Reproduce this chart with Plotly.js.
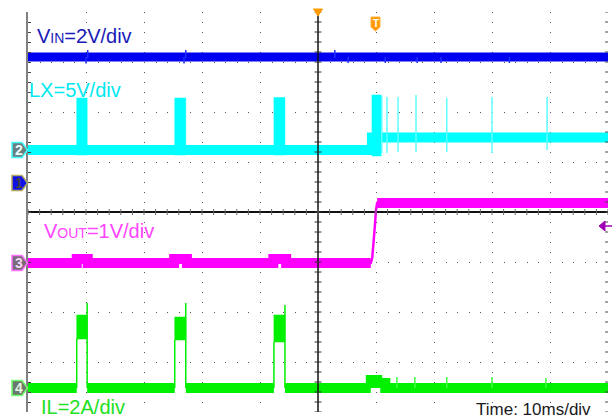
<!DOCTYPE html>
<html><head><meta charset="utf-8">
<script src="https://cdn.plot.ly/plotly-3.0.1.min.js"></script>
<style>html,body{margin:0;padding:0;background:#fff}#chart{width:612px;height:418px}</style>
</head><body><div id="chart"></div>
<script>
// ---------------- DATA (time in ms, 10 ms/div) ----------------
const burstStart = [8.4, 25.3, 42.4];
const burstEnd   = [10.2, 27.2, 44.3];

// CH1 VIN (V)
const vinT = [0, 100];
const vinV = [5.04, 5.04];
const vinSpikeT  = [10.3, 27.2, 52.9, 10.0, 26.9, 55.2, 61.6, 67.1, 71.2, 83.0];
const vinSpikeLo = [5.0, 5.0, 5.0, 4.78, 4.78, 4.8, 4.8, 4.8, 4.8, 4.8];
const vinSpikeHi = [5.32, 5.32, 5.32, 5.04, 5.04, 5.04, 5.04, 5.04, 5.04, 5.04];

// CH2 LX (V)
const lxT = [0, 59.3, 59.3, 100];
const lxV = [0, 0, 1.25, 1.25];
const lxBurstStart = [8.4, 25.3, 42.4, 59.3];
const lxBurstEnd   = [10.2, 27.2, 44.3, 60.9];
const lxBurstLo    = [-0.5, -0.5, -0.5, -0.6];
const lxBurstHi    = [5.2, 5.2, 5.25, 5.5];
const lxSpikeT  = [61.0, 61.9, 63.8, 66.9, 72.2, 80.0, 89.5];
const lxSpikeLo = [-0.3, -0.3, -0.2, -0.2, -0.2, -0.3, 0.0];
const lxSpikeHi = [5.4, 5.3, 5.3, 5.5, 5.2, 5.3, 5.3];

// CH3 VOUT (V)
const voutT = [0, 8.4, 8.4, 10.3, 10.3, 25.2, 25.2, 27.4, 27.4, 42.3, 42.3, 44.5, 44.5, 59.1, 59.35, 59.5, 59.75, 60.0, 60.2, 100];
const voutV = [0, 0, 0.08, 0.08, 0, 0, 0.08, 0.08, 0, 0, 0.08, 0.08, 0, 0, 0.1, 0.26, 0.66, 1.06, 1.2, 1.2];

// CH4 IL (A)
const ilBurstLo   = [1.96, 1.92, 1.84];
const ilBurstHi   = [2.92, 2.84, 2.92];
const ilBurstPeak = [3.4, 3.4, 3.32];
const ilPostT = [59.1, 59.1, 60.2, 60.2, 61.6, 61.6, 100];
const ilPostV = [0, 0.32, 0.32, 0.2, 0.2, 0, 0];
const ilSpikeT  = [63.6, 66.7, 72.2, 80.0, 89.3];
const ilSpikeHi = [0.44, 0.44, 0.44, 0.44, 0.4];

// ---------------- SCOPE SETTINGS ----------------
const CH = {
  vin:  {off: 0.58,  scale: 2, color: '#0000f0'},
  lx:   {off: 1.24,  scale: 5, color: '#00ffff'},
  vout: {off: -1.02, scale: 1, color: '#ff00ff'},
  il:   {off: -3.52, scale: 2, color: '#00f000'}
};
const riseWindow = [59.1, 60.2];
const Y = (c, arr) => arr.map(v => v == null ? null : c.off + v / c.scale);

function spikes(c, t, lo, hi) {
  const x = [], y = [];
  t.forEach((tt, i) => { x.push(tt, tt, null); y.push(c.off + lo[i]/c.scale, c.off + hi[i]/c.scale, null); });
  return {x, y};
}
function rects(c, s, e, lo, hi) {
  const x = [], y = [];
  s.forEach((ss, i) => {
    x.push(ss, ss, e[i], e[i], ss, null);
    const a = c.off + lo[i]/c.scale, b = c.off + hi[i]/c.scale;
    y.push(a, b, b, a, a, null);
  });
  return {x, y};
}

const traces = [];
const line = (x, y, color, width, extra) => Object.assign({type:'scatter', mode:'lines', x, y, line:{color, width}, hoverinfo:'skip', connectgaps:false}, extra || {});

// VIN
traces.push(line(vinT, Y(CH.vin, vinV), CH.vin.color, 9));
let s = spikes(CH.vin, vinSpikeT, vinSpikeLo, vinSpikeHi);
traces.push(line(s.x, s.y, '#2030ff', 1.5));

// LX
traces.push(line(lxT, Y(CH.lx, lxV), CH.lx.color, 10));
let r = rects(CH.lx, lxBurstStart, lxBurstEnd, lxBurstLo, lxBurstHi);
traces.push(line(r.x, r.y, CH.lx.color, 0.5, {fill:'toself', fillcolor:CH.lx.color}));
s = spikes(CH.lx, lxSpikeT, lxSpikeLo, lxSpikeHi);
traces.push(line(s.x, s.y, '#60ffff', 1.5));

// VOUT
traces.push(line(voutT, Y(CH.vout, voutV), CH.vout.color, 2.5));
const vThickT = voutT.map(t => (t > riseWindow[0] && t < riseWindow[1]) ? null : t);
const vThickV = voutV.map((v, i) => vThickT[i] == null ? null : v);
traces.push(line(vThickT, Y(CH.vout, vThickV), CH.vout.color, 10));

// IL
const ilBaseT = [], ilBaseV = [];
let prev = 0;
burstStart.forEach((bs, i) => { ilBaseT.push(prev, bs, null); ilBaseV.push(0, 0, null); prev = burstEnd[i]; });
ilBaseT.push(prev, ilPostT[0]); ilBaseV.push(0, 0);
traces.push(line(ilBaseT, Y(CH.il, ilBaseV), CH.il.color, 10));
traces.push(line(ilPostT, Y(CH.il, ilPostV), CH.il.color, 10));
r = rects(CH.il, burstStart, burstEnd, ilBurstLo, ilBurstHi);
traces.push(line(r.x, r.y, CH.il.color, 0.5, {fill:'toself', fillcolor:CH.il.color}));
const edgeX = [], edgeY = [];
burstStart.forEach((bs, i) => {
  edgeX.push(bs, bs, null, burstEnd[i], burstEnd[i], null);
  edgeY.push(CH.il.off, CH.il.off + ilBurstLo[i]/CH.il.scale, null, CH.il.off + ilBurstPeak[i]/CH.il.scale, CH.il.off, null);
});
traces.push(line(edgeX, edgeY, CH.il.color, 1.5));
s = spikes(CH.il, ilSpikeT, ilSpikeT.map(() => 0), ilSpikeHi);
traces.push(line(s.x, s.y, '#40ff40', 1.5));

// ---------------- DECORATION ----------------
const PX = px => (px - 28) / 580;
const PY = py => (412 - py) / 400;
const shapes = [];
// center vertical line
shapes.push({type:'line', xref:'x', yref:'paper', x0:50, x1:50, y0:0, y1:1, line:{color:'#111', width:1.5}, layer:'above'});
for (let k = -20; k <= 20; k++) {
  shapes.push({type:'line', xref:'x', yref:'y', x0:49.4, x1:50.6, y0:k*0.2, y1:k*0.2, line:{color:'#333', width:1}, layer:'above'});
  shapes.push({type:'line', xref:'x', yref:'y', x0:99.5, x1:100, y0:k*0.2, y1:k*0.2, line:{color:'#444', width:1}, layer:'above'});
}
for (let k = 0; k <= 50; k++) {
  shapes.push({type:'line', xref:'x', yref:'y', x0:k*2, x1:k*2, y0:-0.06, y1:0.06, line:{color:'#666', width:1}, layer:'above'});
}
// channel markers
const markers = [
  {c: CH.vin,  n:'1', fill:'#1010e8', edge:'#b0a860', txt:'#444'},
  {c: CH.lx,   n:'2', fill:'#6a7f7f', edge:'#40ffff', txt:'#e8ffff'},
  {c: CH.vout, n:'3', fill:'#7a6a7a', edge:'#ff70ff', txt:'#f4d8f4'},
  {c: CH.il,   n:'4', fill:'#6a7a6a', edge:'#70ff70', txt:'#e4f4e4'}
];
const annotations = [];
markers.forEach(m => {
  const yc = 212 - m.c.off * 50;
  const p = [[12, yc-7.5],[22, yc-7.5],[27.5, yc],[22, yc+7.5],[12, yc+7.5]];
  shapes.push({type:'path', xref:'paper', yref:'paper', path:'M' + p.map(q => PX(q[0]) + ',' + PY(q[1])).join(' L') + ' Z', fillcolor:m.fill, line:{color:m.edge, width:1.5}});
  annotations.push({xref:'paper', yref:'paper', x:PX(18.5), y:PY(yc), text:'<b>' + m.n + '</b>', showarrow:false, font:{family:'Liberation Sans, Arial', size:14, color:m.txt}, xanchor:'center', yanchor:'middle'});
});
// trigger position (top) and trigger marker T
shapes.push({type:'path', xref:'paper', yref:'paper', path:`M${PX(313.5)},${PY(9)} L${PX(322.5)},${PY(9)} L${PX(318)},${PY(16)} Z`, fillcolor:'#ff9900', line:{color:'#ff9900', width:1}});
shapes.push({type:'path', xref:'paper', yref:'paper', path:`M${PX(371)},${PY(17)} L${PX(380)},${PY(17)} L${PX(380)},${PY(27)} L${PX(375.5)},${PY(31)} L${PX(371)},${PY(27)} Z`, fillcolor:'#ff9900', line:{color:'#ffb040', width:1}});
annotations.push({xref:'paper', yref:'paper', x:PX(375.5), y:PY(23.5), text:'<b>T</b>', showarrow:false, font:{family:'Liberation Sans, Arial', size:10, color:'#fff'}, xanchor:'center', yanchor:'middle'});
// trigger level arrow (right)
shapes.push({type:'path', xref:'paper', yref:'paper', path:`M${PX(599)},${PY(226)} L${PX(605)},${PY(221)} L${PX(605)},${PY(231)} Z`, fillcolor:'#a000b4', line:{color:'#a000b4', width:1}});
shapes.push({type:'line', xref:'paper', yref:'paper', x0:PX(604), x1:PX(612), y0:PY(226), y1:PY(226), line:{color:'#a000b4', width:1.5}});

// labels
const F = 'Liberation Sans, Arial, sans-serif';
const lab = (x, y, text, color, size) => annotations.push({xref:'paper', yref:'paper', x:PX(x), y:PY(y), text, showarrow:false, xanchor:'left', yanchor:'middle', font:{family:F, size, color}, borderpad:0});
lab(36, 36, 'V<span style="font-size:14px">IN</span>=2V/div', '#1a1ab8', 20);
lab(28, 90, 'LX=5V/div', '#00e8f0', 20);
lab(43, 231, 'V<span style="font-size:14px">OUT</span>=1V/div', '#ff44ff', 20);
lab(40, 407, 'IL=2A/div', '#22e022', 20);
lab(475, 409, 'Time: 10ms/div', '#1a1a1a', 17);

const layout = {
  width:612, height:418,
  margin:{l:28, r:4, t:12, b:6, pad:0},
  paper_bgcolor:'#fff', plot_bgcolor:'#fff',
  showlegend:false,
  xaxis:{range:[0,100], tick0:0, dtick:10, showgrid:true, gridcolor:'#555', gridwidth:1, griddash:'1px,9px', zeroline:false, showticklabels:false, ticks:'', showline:false, fixedrange:true},
  yaxis:{range:[-4,4], tick0:0, dtick:1, showgrid:true, gridcolor:'#555', gridwidth:1, griddash:'1px,10.6px', zeroline:true, zerolinecolor:'#111', zerolinewidth:1.5, showline:true, linecolor:'#808080', linewidth:2, ticks:'inside', ticklen:3, tickcolor:'#444', minor:{ticks:'inside', dtick:0.2, ticklen:3, tickcolor:'#444', showgrid:false}, showticklabels:false, fixedrange:true},
  shapes, annotations
};
Plotly.newPlot('chart', traces, layout, {displayModeBar:false, staticPlot:true});
</script></body></html>
